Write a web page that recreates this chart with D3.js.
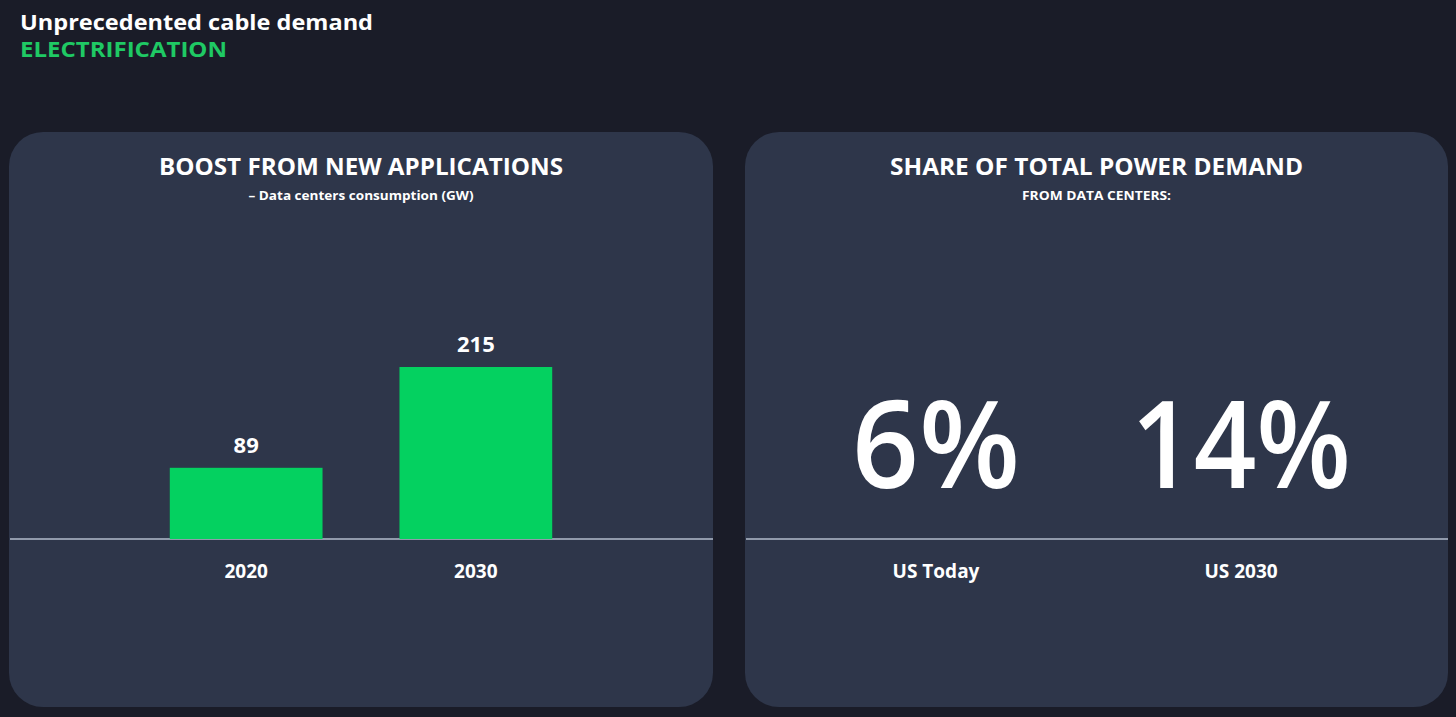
<!DOCTYPE html>
<html>
<head>
<meta charset="utf-8">
<script src="https://cdn.jsdelivr.net/npm/d3@7"></script>
<style>
  body { margin: 0; background: #1a1c28; }
  svg { display: block; }
  text { font-family: "Open Sans", "Noto Sans", sans-serif; fill: #fff; }
</style>
</head>
<body>
<div id="chart"></div>
<script>
var years = ["2020", "2030"];
var consumption = [89, 215];
var shareLabels = ["US Today", "US 2030"];
var shareValues = [6, 14];

var W = 1456, H = 717;
var barColor = "#04d160";
var baseY = 539;

var svg = d3.select("#chart").append("svg")
    .attr("width", W)
    .attr("height", H);

svg.append("rect").attr("width", W).attr("height", H).attr("fill", "#1a1c28");

// header
svg.append("text").attr("x", 20).attr("y", 30)
    .style("font-size", "22px").style("font-weight", 700)
    .attr("textLength", 353).attr("lengthAdjust", "spacingAndGlyphs")
    .text("Unprecedented cable demand");
svg.append("text").attr("x", 20).attr("y", 57)
    .style("font-size", "22px").style("font-weight", 700).style("fill", "#1fc964")
    .attr("textLength", 207).attr("lengthAdjust", "spacingAndGlyphs")
    .text("ELECTRIFICATION");

function panel(x0, x1, title, sub, titleW, subW){
    var g = svg.append("g");
    g.append("rect")
        .attr("x", x0).attr("y", 132)
        .attr("width", x1 - x0).attr("height", 575)
        .attr("rx", 34).attr("ry", 34)
        .attr("fill", "#2e364a");
    var cx = (x0 + x1) / 2;
    g.append("text").attr("x", cx).attr("y", 175)
        .attr("text-anchor", "middle")
        .style("font-size", "23px").style("font-weight", 700)
        .attr("textLength", titleW).attr("lengthAdjust", "spacingAndGlyphs")
        .text(title);
    g.append("text").attr("x", cx).attr("y", 200)
        .attr("text-anchor", "middle")
        .style("font-size", "12.5px").style("font-weight", 700)
        .attr("textLength", subW).attr("lengthAdjust", "spacingAndGlyphs")
        .text(sub);
    g.append("line")
        .attr("x1", x0 + 1).attr("x2", x1)
        .attr("y1", baseY).attr("y2", baseY)
        .attr("stroke", "#b3bccd").attr("stroke-width", 1.5);
    return g;
}

// left panel: bar chart
var left = panel(9, 713, "BOOST FROM NEW APPLICATIONS", "– Data centers consumption (GW)", 404, 225);

var xScale = d3.scaleBand()
    .domain(years)
    .range([9, 713])
    .paddingInner(0.335)
    .paddingOuter(0.7);

var yScale = d3.scaleLinear()
    .domain([0, 275])
    .range([baseY, baseY - 220]);

left.selectAll(".bar")
    .data(consumption)
    .enter().append("rect")
    .attr("class", "bar")
    .attr("x", function(d, i){ return xScale(years[i]); })
    .attr("y", function(d){ return yScale(d); })
    .attr("width", xScale.bandwidth())
    .attr("height", function(d){ return baseY - yScale(d); })
    .attr("fill", barColor);

left.selectAll(".val")
    .data(consumption)
    .enter().append("text")
    .attr("class", "val")
    .attr("x", function(d, i){ return xScale(years[i]) + xScale.bandwidth() / 2; })
    .attr("y", function(d){ return yScale(d) - 15; })
    .attr("text-anchor", "middle")
    .style("font-size", "22px").style("font-weight", 700)
    .text(function(d){ return d; });

left.selectAll(".cat")
    .data(years)
    .enter().append("text")
    .attr("class", "cat")
    .attr("x", function(d){ return xScale(d) + xScale.bandwidth() / 2; })
    .attr("y", 578)
    .attr("text-anchor", "middle")
    .style("font-size", "19px").style("font-weight", 700)
    .text(function(d){ return d; });

// right panel: big numbers
var right = panel(745, 1448, "SHARE OF TOTAL POWER DEMAND", "FROM DATA CENTERS:", 413, 149);

var sScale = d3.scaleBand()
    .domain(shareLabels)
    .range([783.5, 1393.5]);

right.selectAll(".big")
    .data(shareValues)
    .enter().append("text")
    .attr("class", "big")
    .attr("x", function(d, i){ return sScale(shareLabels[i]) + sScale.bandwidth() / 2; })
    .attr("y", 488)
    .attr("text-anchor", "middle")
    .style("font-size", "122px").style("font-weight", 600)
    .attr("textLength", function(d){ return d < 10 ? 168 : 220; })
    .attr("lengthAdjust", "spacingAndGlyphs")
    .text(function(d){ return d + "%"; });

right.selectAll(".cat")
    .data(shareLabels)
    .enter().append("text")
    .attr("class", "cat")
    .attr("x", function(d){ return sScale(d) + sScale.bandwidth() / 2; })
    .attr("y", 578)
    .attr("text-anchor", "middle")
    .style("font-size", "19px").style("font-weight", 700)
    .text(function(d){ return d; });
</script>
</body>
</html>
